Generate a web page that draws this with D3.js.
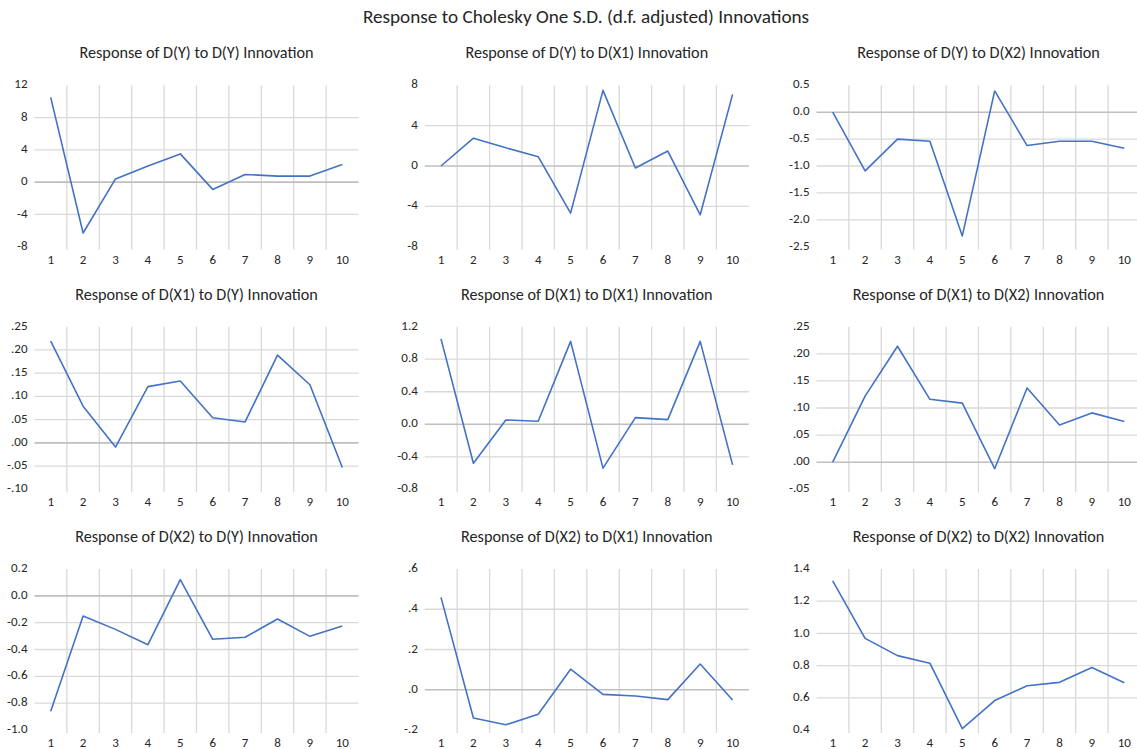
<!DOCTYPE html>
<html>
<head>
<meta charset="utf-8">
<script src="https://cdn.jsdelivr.net/npm/d3@7"></script>
<style>
  html, body { margin: 0; padding: 0; background: #fff; }
  svg { display: block; }
  text { font-family: Carlito, Lato, "Open Sans", sans-serif; }
</style>
</head>
<body>
<svg id="chart" width="1137" height="749"></svg>
<script>
// ---- data ----
const mainTitle = "Response to Cholesky One S.D. (d.f. adjusted) Innovations";
const periods = [1, 2, 3, 4, 5, 6, 7, 8, 9, 10];

const titles = [
  "Response of D(Y) to D(Y) Innovation",
  "Response of D(Y) to D(X1) Innovation",
  "Response of D(Y) to D(X2) Innovation",
  "Response of D(X1) to D(Y) Innovation",
  "Response of D(X1) to D(X1) Innovation",
  "Response of D(X1) to D(X2) Innovation",
  "Response of D(X2) to D(Y) Innovation",
  "Response of D(X2) to D(X1) Innovation",
  "Response of D(X2) to D(X2) Innovation"
];

const yY  = [10.5, -6.3, 0.4, 2.0, 3.5, -0.9, 0.95, 0.75, 0.75, 2.2];
const yX1 = [0.0, 2.76, 1.8, 0.92, -4.67, 7.5, -0.2, 1.48, -4.84, 7.1];
const yX2 = [0.0, -1.09, -0.5, -0.54, -2.3, 0.395, -0.62, -0.54, -0.54, -0.67];
const x1Y  = [0.219, 0.079, -0.009, 0.121, 0.133, 0.054, 0.045, 0.189, 0.125, -0.053];
const x1X1 = [1.05, -0.48, 0.053, 0.037, 1.02, -0.54, 0.082, 0.057, 1.02, -0.50];
const x1X2 = [0.0, 0.122, 0.214, 0.116, 0.109, -0.012, 0.137, 0.0685, 0.091, 0.075];
const x2Y  = [-0.861, -0.151, -0.25, -0.364, 0.121, -0.324, -0.309, -0.173, -0.302, -0.225];
const x2X1 = [0.459, -0.14, -0.174, -0.122, 0.102, -0.023, -0.031, -0.049, 0.128, -0.051];
const x2X2 = [1.326, 0.969, 0.862, 0.815, 0.408, 0.583, 0.675, 0.696, 0.788, 0.694];

const series = [yY, yX1, yX2, x1Y, x1X1, x1X2, x2Y, x2X1, x2X2];

// y-axis tick labels per panel (top to bottom)
const ticks1 = [12, 8, 4, 0, -4, -8];
const ticks2 = [8, 4, 0, -4, -8];
const ticks3 = [0.5, 0.0, -0.5, -1.0, -1.5, -2.0, -2.5];
const ticks4 = [0.25, 0.20, 0.15, 0.10, 0.05, 0.00, -0.05, -0.10];
const ticks5 = [1.2, 0.8, 0.4, 0.0, -0.4, -0.8];
const ticks6 = [0.25, 0.20, 0.15, 0.10, 0.05, 0.00, -0.05];
const ticks7 = [0.2, 0.0, -0.2, -0.4, -0.6, -0.8, -1.0];
const ticks8 = [0.6, 0.4, 0.2, 0.0, -0.2];
const ticks9 = [1.4, 1.2, 1.0, 0.8, 0.6, 0.4];
const tickSets = [ticks1, ticks2, ticks3, ticks4, ticks5, ticks6, ticks7, ticks8, ticks9];
const tickFormats = ["int", "int", "1", "2s", "1", "2s", "1", "1s", "1"];

// ---- layout ----
const colX = [34.5, 424.8, 816.5];
const plotW = 324;
const rowY = [[85.3, 246.7], [326.7, 489.3], [569, 730]];
const lineColor = "#4472c4";
const gridColor = "#d9d9d9";
const zeroColor = "#bfbfbf";
const textColor = "#262626";

const svg = d3.select("#chart");

svg.append("text")
  .attr("x", 586).attr("y", 18)
  .attr("text-anchor", "middle").attr("dominant-baseline", "middle")
  .attr("font-size", 19.2).attr("fill", textColor)
  .text(mainTitle);

function fmt(v, kind) {
  let s;
  if (kind === "int") return String(Math.round(v));
  if (kind === "1" || kind === "1s") s = Math.abs(v).toFixed(1);
  else s = Math.abs(v).toFixed(2);
  if (kind.endsWith("s")) s = s.replace(/^0/, "");
  return (v < -1e-9 ? "-" : "") + s;
}

series.forEach((vals, i) => {
  const r = Math.floor(i / 3), c = i % 3;
  const tks = tickSets[i];
  const x = d3.scaleBand().domain(periods).range([colX[c], colX[c] + plotW]);
  const y = d3.scaleLinear().domain([d3.min(tks), d3.max(tks)]).range([rowY[r][1], rowY[r][0]]);
  const g = svg.append("g");

  // panel title
  g.append("text")
    .attr("x", colX[c] + plotW / 2).attr("y", rowY[r][0] - 31)
    .attr("text-anchor", "middle").attr("dominant-baseline", "middle")
    .attr("font-size", 16.2).attr("fill", textColor)
    .text(titles[i]);

  // vertical gridlines at band boundaries
  g.selectAll("line.vg").data(periods.slice(1)).join("line")
    .attr("x1", d => x(d)).attr("x2", d => x(d))
    .attr("y1", rowY[r][0]).attr("y2", rowY[r][1] + 3)
    .attr("stroke", gridColor).attr("stroke-width", 1.3);

  // horizontal gridlines (interior ticks)
  const inner = tks.filter(t => t !== d3.min(tks) && t !== d3.max(tks) && Math.abs(t) > 1e-9);
  g.selectAll("line.hg").data(inner).join("line")
    .attr("x1", colX[c]).attr("x2", colX[c] + plotW)
    .attr("y1", d => y(d)).attr("y2", d => y(d))
    .attr("stroke", gridColor).attr("stroke-width", 1.3);

  // zero line
  if (d3.min(tks) < 0 && d3.max(tks) > 0) {
    g.append("line")
      .attr("x1", colX[c]).attr("x2", colX[c] + plotW)
      .attr("y1", y(0)).attr("y2", y(0))
      .attr("stroke", zeroColor).attr("stroke-width", 1.6);
  }

  // y tick labels
  g.selectAll("text.yl").data(tks).join("text")
    .attr("x", colX[c] - 7).attr("y", d => y(d))
    .attr("text-anchor", "end").attr("dominant-baseline", "middle")
    .attr("font-size", 13).attr("fill", textColor)
    .text(d => fmt(d, tickFormats[i]));

  // x tick labels
  g.selectAll("text.xl").data(periods).join("text")
    .attr("x", d => x(d) + x.bandwidth() / 2).attr("y", rowY[r][1] + 14)
    .attr("text-anchor", "middle").attr("dominant-baseline", "middle")
    .attr("font-size", 13).attr("fill", textColor)
    .text(d => d);

  // line
  const line = d3.line()
    .x((d, k) => x(periods[k]) + x.bandwidth() / 2)
    .y(d => y(d));
  g.append("path").datum(vals)
    .attr("d", line)
    .attr("fill", "none").attr("stroke", lineColor)
    .attr("stroke-width", 1.6).attr("stroke-linejoin", "round");
});
</script>
</body>
</html>
